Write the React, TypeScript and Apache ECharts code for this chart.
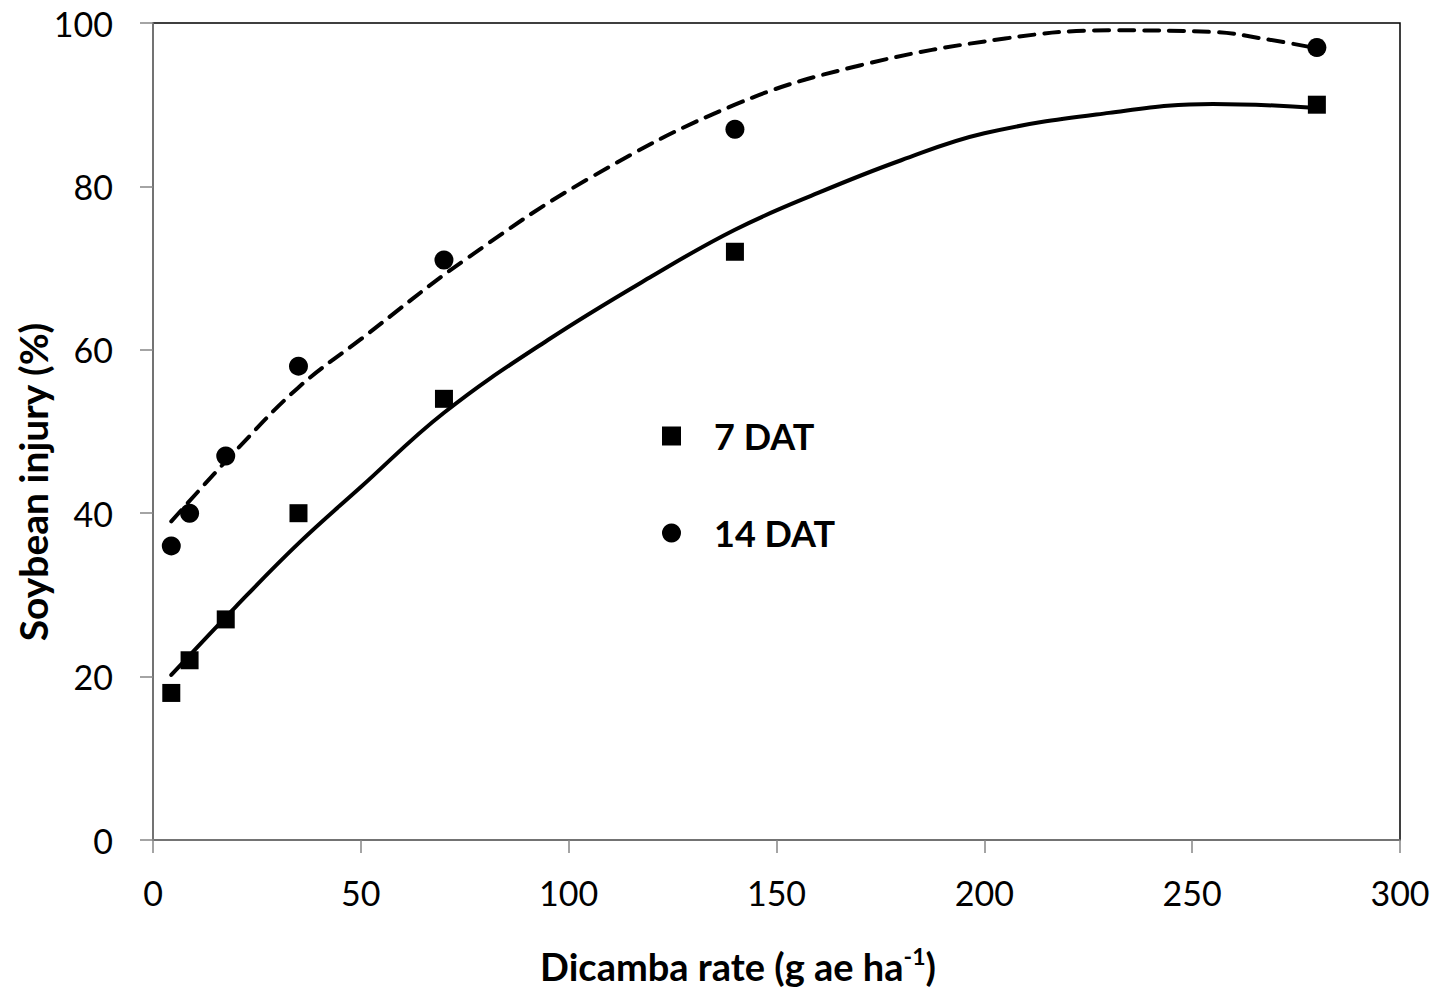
import React, { useEffect, useRef } from "react";
import * as echarts from "echarts";

// Observed data (dicamba rate, g ae/ha)
const rates = [4.4, 8.8, 17.5, 35, 70, 140, 280];
const injury7DAT = [18, 22, 27, 40, 54, 72, 90];
const injury14DAT = [36, 40, 47, 58, 71, 87, 97];

// Fitted trend curves
const fit7X = [4.4, 20, 35, 50, 70, 95, 120, 140, 160, 180, 200, 230, 255, 280];
const fit7Y = [20.2, 28.6, 36.3, 43.2, 52.3, 61.2, 69, 74.7, 79.2, 83.2, 86.5, 89, 90.1, 89.6];
const fit14X = [4.4, 20, 35, 50, 75, 105, 140, 170, 205, 230, 255, 268, 280];
const fit14Y = [39, 47.7, 55.4, 61.3, 71, 81, 90, 94.8, 98.1, 99.1, 98.9, 98, 96.9];

const xTicks = { min: 0, max: 300, interval: 50 };
const yTicks = { min: 0, max: 100, interval: 20 };

const seriesNames = ["7 DAT", "14 DAT"];

const FONT = "Lato, 'Open Sans', sans-serif";

export default function App() {
  const ref = useRef<HTMLDivElement>(null);

  useEffect(() => {
    if (!ref.current) return;
    const chart = echarts.init(ref.current, undefined, { renderer: "svg" });
    const pair = (xs: number[], ys: number[]) => xs.map((x, i) => [x, ys[i]]);
    const axisGray = "#868686";
    chart.setOption({
      animation: false,
      backgroundColor: "#fff",
      grid: {
        left: 153,
        right: 39,
        top: 23,
        bottom: 148,
        show: true,
        borderColor: "#000",
        borderWidth: 1.5,
        backgroundColor: "transparent",
      },
      xAxis: {
        type: "value",
        min: xTicks.min,
        max: xTicks.max,
        interval: xTicks.interval,
        axisLine: { show: true, onZero: false, lineStyle: { color: axisGray, width: 1.5 } },
        axisTick: { show: true, inside: false, length: 13, lineStyle: { color: axisGray, width: 1.5 } },
        axisLabel: { color: "#000", fontFamily: FONT, fontSize: 34, margin: 35 },
        splitLine: { show: false },
      },
      yAxis: {
        type: "value",
        min: yTicks.min,
        max: yTicks.max,
        interval: yTicks.interval,
        axisLine: { show: true, onZero: false, lineStyle: { color: axisGray, width: 1.5 } },
        axisTick: { show: true, inside: false, length: 13, lineStyle: { color: axisGray, width: 1.5 } },
        axisLabel: { color: "#000", fontFamily: FONT, fontSize: 34, margin: 40 },
        splitLine: { show: false },
      },
      legend: {
        data: seriesNames,
        orient: "vertical",
        left: 657,
        top: 413,
        itemWidth: 19,
        itemHeight: 19,
        itemGap: 61,
        textStyle: {
          fontFamily: FONT,
          fontWeight: "bold",
          fontSize: 36,
          color: "#000",
          lineHeight: 36,
          padding: [0, 0, 0, 28],
        },
        selectedMode: false,
      },
      graphic: [
        {
          type: "text",
          x: 33,
          y: 482,
          rotation: Math.PI / 2,
          style: {
            text: "Soybean injury (%)",
            fontFamily: FONT,
            fontWeight: "bold",
            fontSize: 39,
            fill: "#000",
            textAlign: "center",
            textVerticalAlign: "middle",
          },
        },
        {
          type: "text",
          x: 738,
          y: 966,
          style: {
            text: "Dicamba rate (g ae ha{sup|-1})",
            fontFamily: FONT,
            fontWeight: "bold",
            fontSize: 38,
            fill: "#000",
            textAlign: "center",
            textVerticalAlign: "middle",
            lineHeight: 44,
            rich: {
              sup: {
                fontFamily: FONT,
                fontWeight: "bold",
                fontSize: 23,
                fill: "#000",
                verticalAlign: "top",
                lineHeight: 44,
                padding: [0, 0, 12, 0],
              },
            },
          },
        },
      ],
      series: [
        {
          name: "fit 7 DAT",
          type: "line",
          data: pair(fit7X, fit7Y),
          smooth: 0.4,
          showSymbol: false,
          symbol: "none",
          lineStyle: { color: "#000", width: 4, type: "solid", cap: "round" },
          z: 2,
          silent: true,
        },
        {
          name: "fit 14 DAT",
          type: "line",
          data: pair(fit14X, fit14Y),
          smooth: 0.4,
          showSymbol: false,
          symbol: "none",
          lineStyle: { color: "#000", width: 4, type: [15, 10], cap: "round" },
          z: 2,
          silent: true,
        },
        {
          name: seriesNames[0],
          type: "scatter",
          data: pair(rates, injury7DAT),
          symbol: "rect",
          symbolSize: 18,
          itemStyle: { color: "#000", opacity: 1 },
          z: 3,
        },
        {
          name: seriesNames[1],
          type: "scatter",
          data: pair(rates, injury14DAT),
          symbol: "circle",
          symbolSize: 19,
          itemStyle: { color: "#000", opacity: 1 },
          z: 3,
        },
      ],
    });
    return () => chart.dispose();
  }, []);

  return (
    <div
      ref={ref}
      style={{ position: "absolute", left: 0, top: 0, width: 1439, height: 988, background: "#fff" }}
    />
  );
}
